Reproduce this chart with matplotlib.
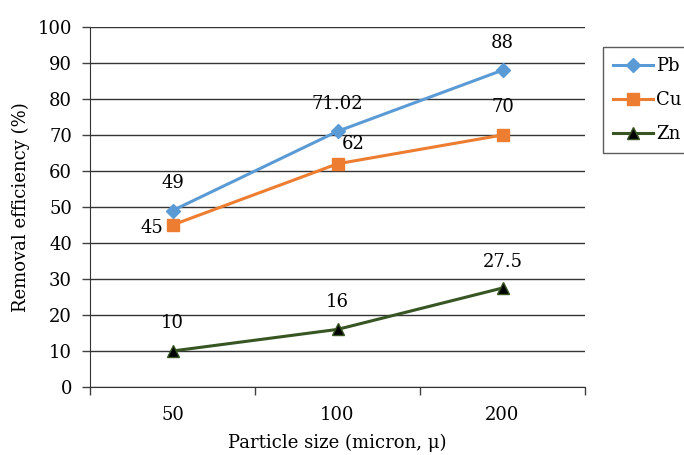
import matplotlib
matplotlib.use("Agg")
import matplotlib.pyplot as plt

categories = ["50", "100", "200"]
pb = [49, 71.02, 88]
cu = [45, 62, 70]
zn = [10, 16, 27.5]
pb_labels = ["49", "71.02", "88"]
cu_labels = ["45", "62", "70"]
zn_labels = ["10", "16", "27.5"]

plt.rcParams['font.family'] = ['DejaVu Serif']

fig = plt.figure(figsize=(6.84, 4.55), dpi=100)
ax = fig.add_axes([90/684, 1-387/455, 495/684, 360/455])

x = list(range(len(categories)))
ax.plot(x, pb, color='#5B9BD5', lw=2.2, marker='D', ms=7, mfc='#5B9BD5', mec='#5B9BD5', label='Pb', zorder=3)
ax.plot(x, cu, color='#ED7D31', lw=2.2, marker='s', ms=9, mfc='#ED7D31', mec='#ED7D31', label='Cu', zorder=3)
ax.plot(x, zn, color='#375623', lw=2.2, marker='^', ms=9, mfc='black', mec='#375623', label='Zn', zorder=3)

fs = 13
offs_pb = [(0, 20), (0, 20), (0, 19.5)]
for xi, v, t, o in zip(x, pb, pb_labels, offs_pb):
    ax.annotate(t, (xi, v), xytext=o, textcoords='offset points', ha='center', va='center', fontsize=fs)
offs_cu = [(-15, -2), (11.5, 14), (0, 20)]
for xi, v, t, o in zip(x, cu, cu_labels, offs_cu):
    ax.annotate(t, (xi, v), xytext=o, textcoords='offset points', ha='center', va='center', fontsize=fs)
offs_zn = [(0, 20), (0, 20), (0, 19)]
for xi, v, t, o in zip(x, zn, zn_labels, offs_zn):
    ax.annotate(t, (xi, v), xytext=o, textcoords='offset points', ha='center', va='center', fontsize=fs)

ax.set_xlim(-0.5, len(categories) - 0.5)
ax.set_ylim(0, 100)
ax.set_yticks(range(0, 101, 10))
ax.set_xticks(x)
ax.set_xticklabels(categories, fontsize=fs)
ax.set_xticks([-0.5, 0.5, 1.5, 2.5], minor=True)
ax.tick_params(axis='x', which='major', length=0, pad=14)
ax.tick_params(axis='x', which='minor', length=6, width=1, color='#404040', direction='out')
ax.tick_params(axis='y', labelsize=fs, length=6, width=1, color='#404040', direction='out', pad=7)
ax.yaxis.grid(True, color='#333333', lw=1)
ax.set_axisbelow(True)
for s in ['top', 'right']:
    ax.spines[s].set_visible(False)
ax.spines['left'].set_color('#333333')
ax.spines['bottom'].set_color('#333333')

ax.set_xlabel("Particle size (micron, \u03bc)", fontsize=fs, labelpad=7)
ax.set_ylabel("Removal efficiency (%)", fontsize=fs, labelpad=5)

leg = ax.legend(loc='upper left', bbox_to_anchor=(603/684, 1-47/455), bbox_transform=fig.transFigure,
                fontsize=fs, frameon=True, fancybox=False, edgecolor='#333333',
                handlelength=2.2, handletextpad=0.2, borderpad=0.55, labelspacing=0.9, borderaxespad=0)
leg.get_frame().set_linewidth(1)

fig.savefig("out.png", dpi=100)
